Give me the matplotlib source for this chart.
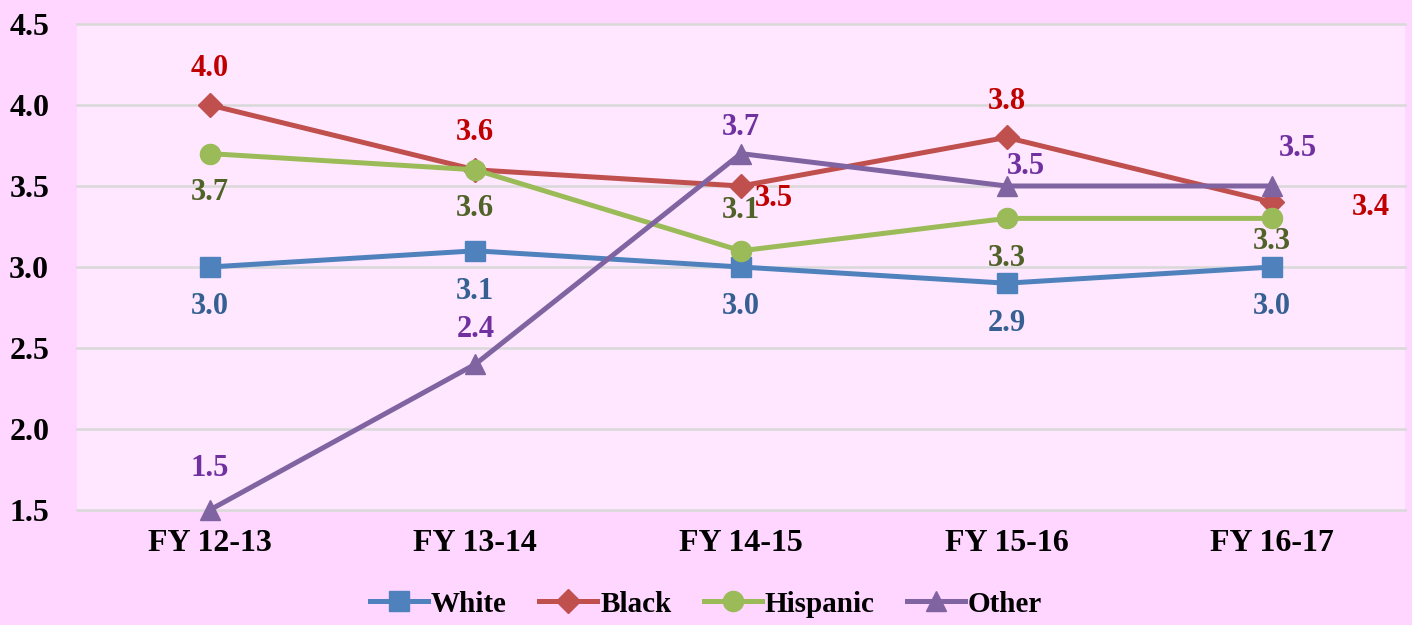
import numpy as np
import matplotlib
matplotlib.use("Agg")
from matplotlib import pyplot as plt

years = ["FY 12-13", "FY 13-14", "FY 14-15", "FY 15-16", "FY 16-17"]
white = [3.0, 3.1, 3.0, 2.9, 3.0]
black = [4.0, 3.6, 3.5, 3.8, 3.4]
hispanic = [3.7, 3.6, 3.1, 3.3, 3.3]
other = [1.5, 2.4, 3.7, 3.5, 3.5]

# label offsets in pixels (dx, dy) per point
white_off = [(0, -39), (0, -41), (0, -39), (0, -40), (0, -39)]
black_off = [(0, 36), (0, 37), (33, -13), (0, 36), (99, -5)]
hisp_off = [(0, -39), (0, -39), (0, 40), (0, -40), (0, -23)]
other_off = [(0, 42), (0, 35), (0, 26), (19, 19), (26, 38)]

plt.rcParams['font.family'] = ['Liberation Serif', 'DejaVu Serif']
plt.rcParams['font.weight'] = 'bold'

fig = plt.figure(figsize=(14.12, 6.25), dpi=100, facecolor='#FFD6FF')
ax = fig.add_axes([0.0545, 0.184, 0.9405, 0.7776])
ax.set_facecolor('#FFE8FF')

x = np.arange(len(years))
series = [
    ("White", white, '#4F81BD', 's', 14, '#376092', white_off),
    ("Black", black, '#C0504D', 'D', 12, '#C00000', black_off),
    ("Hispanic", hispanic, '#9BBB59', 'o', 14.5, '#4F6228', hisp_off),
    ("Other", other, '#8064A2', '^', 15, '#7030A0', other_off),
]
for name, vals, col, mk, ms, lcol, offs in series:
    ax.plot(x, vals, color=col, lw=3.6, marker=mk, markersize=ms, label=name,
            zorder=3, clip_on=False)
    for xi, v, (dx, dy) in zip(x, vals, offs):
        ax.annotate(f"{v:.1f}", (xi, v), xytext=(dx, dy), textcoords='offset pixels',
                    ha='center', va='center', color=lcol, fontsize=22, fontweight='bold')

ax.set_xlim(-0.5, 4.5)
ax.set_ylim(1.5, 4.5)
ax.set_yticks([1.5, 2.0, 2.5, 3.0, 3.5, 4.0, 4.5])
ax.set_yticklabels([f"{t:.1f}" for t in ax.get_yticks()])
ax.set_xticks(x)
ax.set_xticklabels(years)
ax.tick_params(axis='y', length=0, labelsize=23, pad=20)
ax.tick_params(axis='x', length=0, labelsize=23, pad=14)
ax.grid(axis='y', color='#D9D9D9', lw=1.8, clip_on=False)
ax.set_axisbelow(True)
for s in ax.spines.values():
    s.set_visible(False)

fig.legend(loc='lower center', bbox_to_anchor=(0.5, -0.03), ncol=4, frameon=False,
           fontsize=21, handlelength=2.0, handletextpad=0.1, columnspacing=1.1)

fig.savefig("out.png", dpi=100, facecolor=fig.get_facecolor())
